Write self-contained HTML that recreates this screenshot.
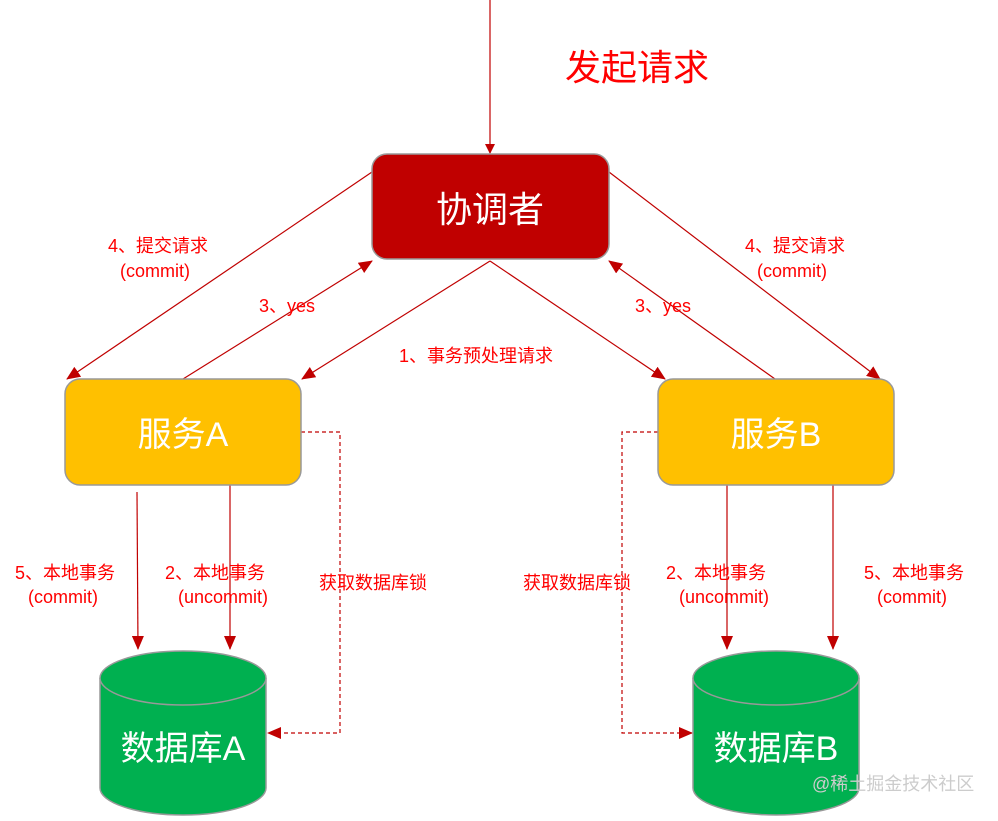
<!DOCTYPE html>
<html><head><meta charset="utf-8"><style>
html,body{margin:0;padding:0;background:#fff;}
svg text{font-family:"Liberation Sans","Noto Sans CJK SC",sans-serif;}
</style></head><body>
<svg width="998" height="816" viewBox="0 0 998 816" xmlns="http://www.w3.org/2000/svg">
<defs>
<marker id="a" markerWidth="10" markerHeight="10" refX="9" refY="5" orient="auto" markerUnits="userSpaceOnUse"><path d="M0,0 L10,5 L0,10 z" fill="#C00000"/></marker>
<marker id="b" markerWidth="14" markerHeight="12" refX="13" refY="6" orient="auto" markerUnits="userSpaceOnUse"><path d="M0,0 L14,6 L0,12 z" fill="#C00000"/></marker>
</defs>
<g stroke="#C00000" stroke-width="1.2" fill="none">
<line x1="490" y1="0" x2="490" y2="153" marker-end="url(#a)"/>
<line x1="372" y1="172" x2="67" y2="379" marker-end="url(#b)"/>
<line x1="183" y1="379" x2="372" y2="261" marker-end="url(#b)"/>
<line x1="490" y1="261" x2="302" y2="379" marker-end="url(#b)"/>
<line x1="490" y1="261" x2="665" y2="379" marker-end="url(#b)"/>
<line x1="775" y1="379" x2="609" y2="261" marker-end="url(#b)"/>
<line x1="609" y1="172" x2="880" y2="379" marker-end="url(#b)"/>
<line x1="137" y1="492" x2="138" y2="649" marker-end="url(#b)"/>
<line x1="230" y1="485" x2="230" y2="649" marker-end="url(#b)"/>
<line x1="727" y1="485" x2="727" y2="649" marker-end="url(#b)"/>
<line x1="833" y1="485" x2="833" y2="649" marker-end="url(#b)"/>
<polyline points="301,432 340,432 340,733 268,733" stroke-dasharray="4,3" marker-end="url(#b)"/>
<polyline points="658,432 622,432 622,733 692,733" stroke-dasharray="4,3" marker-end="url(#b)"/>
</g>
<rect x="372" y="154" width="237" height="105" rx="15" fill="#C00000" stroke="#999" stroke-width="1.5"/>
<text x="490" y="222" font-size="36" fill="#fff" text-anchor="middle">协调者</text>
<rect x="65" y="379" width="236" height="106" rx="15" fill="#FFC000" stroke="#999" stroke-width="1.5"/>
<text x="183" y="446" font-size="34" fill="#fff" text-anchor="middle">服务A</text>
<rect x="658" y="379" width="236" height="106" rx="15" fill="#FFC000" stroke="#999" stroke-width="1.5"/>
<text x="776" y="446" font-size="34" fill="#fff" text-anchor="middle">服务B</text>
<g fill="#00B050" stroke="#999" stroke-width="1.5">
<path d="M100,678 L100,788 A83,27 0 0 0 266,788 L266,678 A83,27 0 0 0 100,678 z"/>
<path d="M100,678 A83,27 0 0 0 266,678"/>
<path d="M693,678 L693,788 A83,27 0 0 0 859,788 L859,678 A83,27 0 0 0 693,678 z"/>
<path d="M693,678 A83,27 0 0 0 859,678"/>
</g>
<text x="183" y="760" font-size="34" fill="#fff" text-anchor="middle">数据库A</text>
<text x="776" y="760" font-size="34" fill="#fff" text-anchor="middle">数据库B</text>
<g fill="#FF0000" font-size="18">
<text x="565" y="80" font-size="36">发起请求</text>
<text x="108" y="252">4、提交请求</text>
<text x="120" y="277">(commit)</text>
<text x="745" y="252">4、提交请求</text>
<text x="757" y="277">(commit)</text>
<text x="259" y="312">3、yes</text>
<text x="635" y="312">3、yes</text>
<text x="399" y="362">1、事务预处理请求</text>
<text x="15" y="579">5、本地事务</text>
<text x="28" y="603">(commit)</text>
<text x="165" y="579">2、本地事务</text>
<text x="178" y="603">(uncommit)</text>
<text x="319" y="589">获取数据库锁</text>
<text x="523" y="589">获取数据库锁</text>
<text x="666" y="579">2、本地事务</text>
<text x="679" y="603">(uncommit)</text>
<text x="864" y="579">5、本地事务</text>
<text x="877" y="603">(commit)</text>
</g>
<text x="812" y="790" font-size="18" fill="#ccc">@稀土掘金技术社区</text>
</svg>
</body></html>
